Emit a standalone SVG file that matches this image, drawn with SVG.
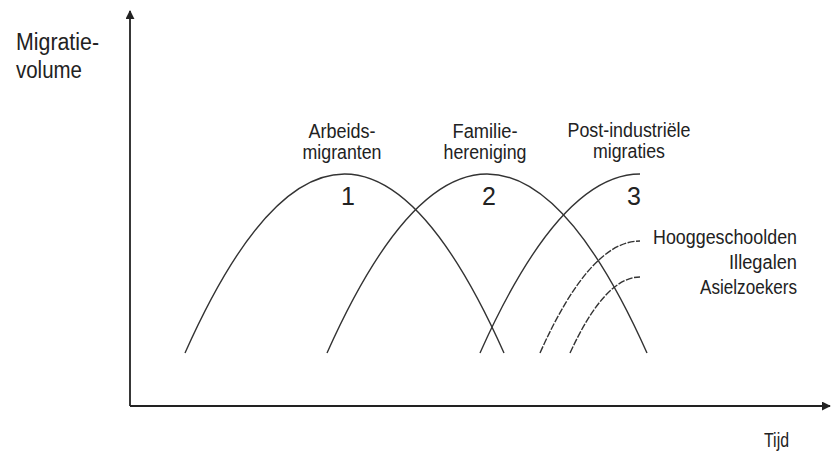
<svg xmlns="http://www.w3.org/2000/svg" width="831" height="454" viewBox="0 0 831 454">
<style>
text{font-family:"Liberation Sans",Arial,sans-serif;fill:#222}
.lbl{font-size:20px;text-anchor:middle}
.num{font-size:25px;text-anchor:middle}
.ax{stroke:#222;stroke-width:1.8;fill:none}
.cv{stroke:#333;stroke-width:1.4;fill:none}
.ds{stroke-dasharray:7 1.5}
</style>
<defs>
<marker id="ah" viewBox="0 0 10 10" refX="9" refY="5" markerWidth="9" markerHeight="9" markerUnits="userSpaceOnUse" orient="auto">
<path d="M0,0 L10,5 L0,10 z" fill="#222"/>
</marker>
</defs>
<rect width="831" height="454" fill="#fff"/>
<g id="axes">
<path class="ax" d="M130,406 L130,11" marker-end="url(#ah)"/>
<path class="ax" d="M130,406 L830,406" marker-end="url(#ah)"/>
</g>
<g id="connectors">
<path class="cv" d="M185,353 Q344.5,-5 504,353"/>
<path class="cv" d="M327,353 Q487,-5 647,353"/>
<path class="cv" d="M480,353 Q560,174 640,174"/>
<path class="cv ds" d="M540,353 Q590,241 640,241"/>
<path class="cv ds" d="M570,353 Q605,277 640,277"/>
</g>
<g id="y-label">
<text x="16" y="50" style="font-size:23px" textLength="83" lengthAdjust="spacingAndGlyphs">Migratie-</text>
<text x="16" y="78" style="font-size:23px" textLength="66" lengthAdjust="spacingAndGlyphs">volume</text>
</g>
<g id="x-label"><text x="764" y="447" style="font-size:20px" textLength="25" lengthAdjust="spacingAndGlyphs">Tijd</text></g>
<g id="phase1">
<text class="lbl" x="342" y="138" textLength="67" lengthAdjust="spacingAndGlyphs">Arbeids-</text>
<text class="lbl" x="342" y="159" textLength="79" lengthAdjust="spacingAndGlyphs">migranten</text>
<text class="num" x="348" y="205">1</text>
</g>
<g id="phase2">
<text class="lbl" x="485" y="138" textLength="65" lengthAdjust="spacingAndGlyphs">Familie-</text>
<text class="lbl" x="485" y="159" textLength="83" lengthAdjust="spacingAndGlyphs">hereniging</text>
<text class="num" x="489" y="205">2</text>
</g>
<g id="phase3">
<text class="lbl" x="629" y="137" textLength="123" lengthAdjust="spacingAndGlyphs">Post-industriële</text>
<text class="lbl" x="629" y="158" textLength="72" lengthAdjust="spacingAndGlyphs">migraties</text>
<text class="num" x="634" y="205">3</text>
</g>
<g id="groups">
<text x="797" y="244" style="font-size:20px;text-anchor:end" textLength="144" lengthAdjust="spacingAndGlyphs">Hooggeschoolden</text>
<text x="797" y="269" style="font-size:20px;text-anchor:end" textLength="68" lengthAdjust="spacingAndGlyphs">Illegalen</text>
<text x="797" y="294" style="font-size:20px;text-anchor:end" textLength="97" lengthAdjust="spacingAndGlyphs">Asielzoekers</text>
</g>
</svg>
